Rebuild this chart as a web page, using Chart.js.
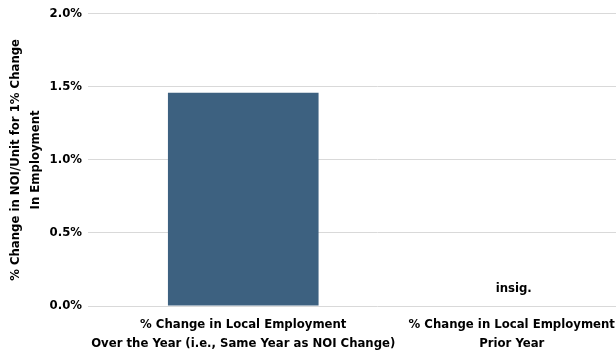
<!DOCTYPE html>
<html>
<head>
<meta charset="utf-8">
<script src="https://cdn.jsdelivr.net/npm/chart.js@4"></script>
<style>
html,body{margin:0;padding:0;background:#fff;overflow:hidden;width:616px;height:355px;}
#wrap{position:relative;width:646px;height:355px;}
</style>
</head>
<body>
<div id="wrap"><canvas id="c"></canvas></div>
<script>
const categories = [
  ["% Change in Local Employment", "Over the Year (i.e., Same Year as NOI Change)"],
  ["% Change in Local Employment", "Prior Year"]
];
const values = [1.46, null];
const valueNotes = [null, "insig."];
const yTicks = [0, 0.5, 1.0, 1.5, 2.0];
const yTitle = ["% Change in NOI/Unit for 1% Change", "In Employment"];

const FONT = "'Liberation Sans Narrow', 'DejaVu Sans Condensed', 'Open Sans', sans-serif";

const notePlugin = {
  id: 'notes',
  afterDatasetsDraw(chart) {
    const ctx = chart.ctx;
    const xs = chart.scales.x, ys = chart.scales.y;
    ctx.save();
    ctx.font = "bold 13px " + FONT;
    ctx.fillStyle = "#000";
    ctx.textAlign = "center";
    ctx.textBaseline = "middle";
    valueNotes.forEach((t, i) => {
      if (!t) return;
      const v = values[i] == null ? 0 : values[i];
      ctx.fillText(t, xs.getPixelForValue(i) + 2, ys.getPixelForValue(v) - 17);
    });
    ctx.restore();
  }
};

new Chart(document.getElementById('c'), {
  type: 'bar',
  data: {
    labels: categories,
    datasets: [{
      data: values,
      backgroundColor: '#3d6180',
      barPercentage: 0.561,
      categoryPercentage: 1.0
    }]
  },
  options: {
    responsive: true,
    maintainAspectRatio: false,
    animation: false,
    layout: { padding: { left: 0, right: 0, top: 5, bottom: 0 } },
    plugins: { legend: { display: false }, tooltip: { enabled: false } },
    scales: {
      x: {
        afterFit(s) { s.height = 49; },
        grid: { display: false, drawTicks: false },
        border: { display: false },
        ticks: {
          color: '#000',
          font: { family: FONT, size: 13, weight: 'bold', lineHeight: '19px' },
          padding: 9,
          maxRotation: 0,
          autoSkip: false
        }
      },
      y: {
        min: 0,
        max: 2.0,
        afterBuildTicks(s) { s.ticks = yTicks.map(v => ({ value: v })); },
        afterFit(s) { s.width = 109; },
        grid: { color: '#d9d9d9', lineWidth: 1, tickLength: 21, drawTicks: true },
        border: { display: false },
        ticks: {
          color: '#000',
          font: { family: FONT, size: 13, weight: 'bold' },
          padding: 6,
          callback: v => v.toFixed(1) + '%'
        },
        title: {
          display: true,
          text: yTitle,
          color: '#000',
          font: { family: FONT, size: 13, weight: 'bold', lineHeight: '20px' },
          padding: { top: 6, bottom: 0 }
        }
      }
    }
  },
  plugins: [notePlugin]
});
</script>
</body>
</html>
